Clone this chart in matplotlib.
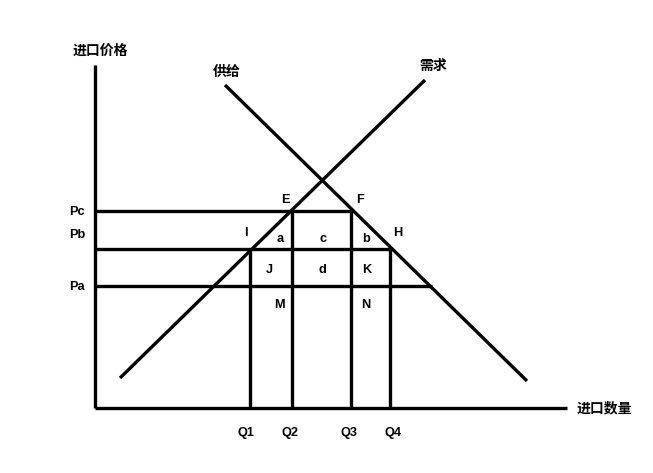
import matplotlib
matplotlib.use("Agg")
import matplotlib.pyplot as plt

plt.rcParams['font.family'] = ['Noto Sans CJK SC', 'DejaVu Sans']

# Economic coordinates: q = import quantity, p = import price (origin at axes corner)
price_names = ["Pa", "Pb", "Pc"]
price_vals = [122, 159, 197]
qty_names = ["Q1", "Q2", "Q3", "Q4"]
qty_vals = [155, 197, 256, 295]

supply_q = [130, 432]   # line labelled 供给
supply_p = [323, 27]
demand_q = [25, 330]    # line labelled 需求
demand_p = [30, 328]

# horizontal price lines: right end quantity
h_ends = [337, 295, 256]          # Pa, Pb, Pc
# vertical quantity lines: top price
v_tops = [159, 197, 197, 159]     # Q1..Q4

axis_top = 343
axis_right = 472

region_labels = ["E", "F", "I", "H", "a", "c", "b", "J", "d", "K", "M", "N"]
region_q = [190, 265, 151, 303, 185, 228, 271, 174, 227, 272, 184, 271]
region_p = [208, 208, 175, 175, 169, 169, 169, 138, 138, 138, 103, 103]

fig = plt.figure(figsize=(6.53, 4.73), dpi=100)
ax = fig.add_axes([0, 0, 1, 1])
ax.set_xlim(-95, 558)
ax.set_ylim(-65, 408)
ax.axis("off")

lw = 2.4
# axes
ax.plot([0, 0], [0, axis_top], color="black", lw=lw, solid_capstyle="butt")
ax.plot([0, axis_right], [0, 0], color="black", lw=lw, solid_capstyle="butt")

# curves
ax.plot(supply_q, supply_p, color="black", lw=lw, solid_capstyle="butt")
ax.plot(demand_q, demand_p, color="black", lw=lw, solid_capstyle="butt")

# price lines
for p, e in zip(price_vals, h_ends):
    ax.plot([0, e], [p, p], color="black", lw=lw, solid_capstyle="butt")
# quantity lines
for q, t in zip(qty_vals, v_tops):
    ax.plot([q, q], [0, t], color="black", lw=lw, solid_capstyle="butt")

lat = dict(family="Liberation Sans", fontweight="bold", fontsize=9.2, ha="center", va="center")
cjk = dict(family=["Noto Sans CJK SC", "DejaVu Sans"], fontweight="bold", fontsize=10, ha="center", va="center")

# price labels
price_label_p = [121, 173, 196]
for n, p in zip(price_names, price_label_p):
    ax.text(-18, p, n, **lat)
# quantity labels
qty_label_q = [151, 195, 254, 298]
for n, q in zip(qty_names, qty_label_q):
    ax.text(q, -25, n, **lat)

for n, q, p in zip(region_labels, region_q, region_p):
    ax.text(q, p, n, **lat)

ax.text(5, 357, "进口价格", **cjk)
ax.text(132, 336, "供给", **cjk)
ax.text(338, 342, "需求", **cjk)
ax.text(509, 0, "进口数量", **cjk)

fig.savefig("out.png", dpi=100)
